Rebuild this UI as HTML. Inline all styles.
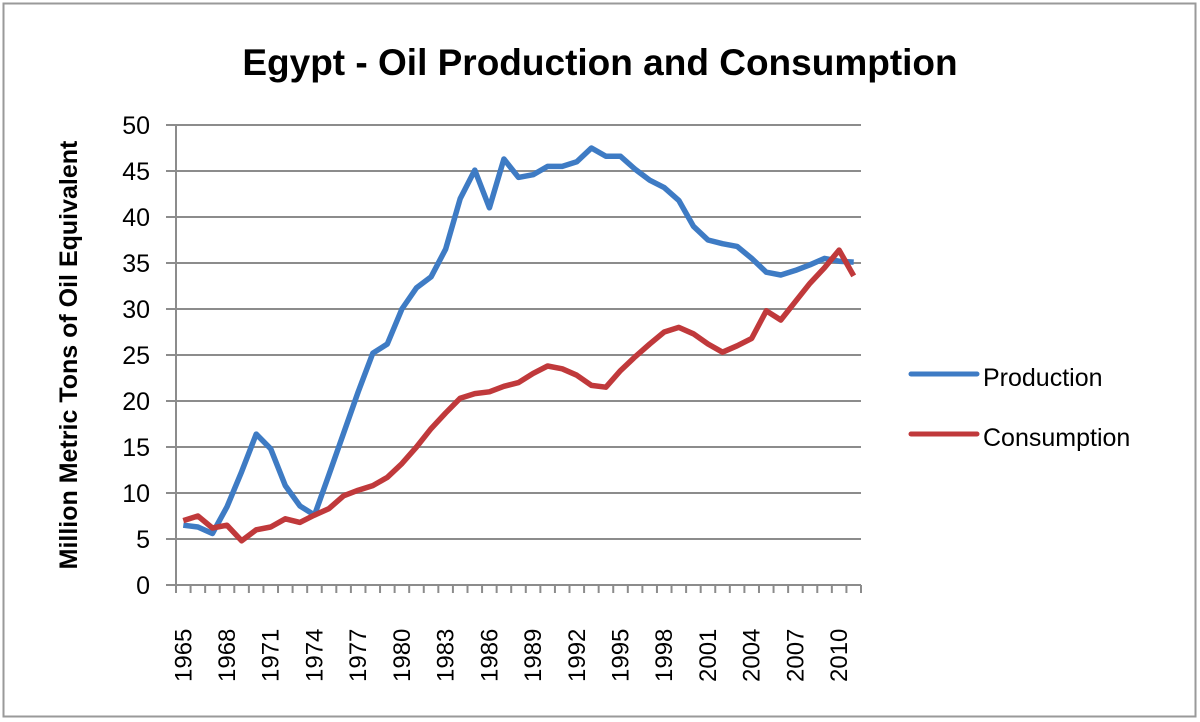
<!DOCTYPE html>
<html><head><meta charset="utf-8"><style>
html,body{margin:0;padding:0;background:#fff;}
svg{display:block;font-family:"Liberation Sans",sans-serif;}
</style></head><body>
<svg id="s" width="1200" height="722" viewBox="0 0 1200 722">
<rect x="3.5" y="3.5" width="1192" height="713" fill="#fff" stroke="#9a9a9a" stroke-width="2"/>
<text x="600" y="75" text-anchor="middle" font-size="37" font-weight="bold" fill="#000">Egypt - Oil Production and Consumption</text>
<g id="grid" stroke="#8c8c8c" stroke-width="2"></g>
<g id="ylab" font-size="25" fill="#000" text-anchor="end"></g>
<g id="xlab" font-size="24" fill="#000"></g>
<text transform="translate(77,355) rotate(-90)" text-anchor="middle" font-size="25" font-weight="bold" fill="#000">Million Metric Tons of Oil Equivalent</text>
<polyline id="prod" fill="none" stroke="#3e7bc4" stroke-width="5.5" stroke-linejoin="round"/>
<polyline id="cons" fill="none" stroke="#c0393b" stroke-width="5.5" stroke-linejoin="round"/>
<line x1="911" y1="374" x2="977" y2="374" stroke="#3e7bc4" stroke-width="5" stroke-linecap="round"/>
<text x="983" y="386" font-size="25" fill="#000">Production</text>
<line x1="911" y1="434" x2="977" y2="434" stroke="#c0393b" stroke-width="5" stroke-linecap="round"/>
<text x="983" y="446" font-size="25" fill="#000">Consumption</text>
</svg>
<script>
var ns="http://www.w3.org/2000/svg";
function el(t,a,p,txt){var e=document.createElementNS(ns,t);for(var k in a)e.setAttribute(k,a[k]);if(txt!=null)e.textContent=txt;document.getElementById(p).appendChild(e);return e;}
var x0=176,x1=861,y0=585,sc=9.2,n=47,w=(x1-x0)/n;
for(var v=0;v<=50;v+=5){var y=y0-v*sc;el("line",{x1:166,x2:x1,y1:y,y2:y},"grid");el("text",{x:150,y:y+9},"ylab",String(v));}
el("line",{x1:x0,x2:x0,y1:125,y2:y0+1},"grid");
for(var i=0;i<=n;i++){var x=x0+i*w;el("line",{x1:x,x2:x,y1:y0,y2:y0+8},"grid");}
for(var i=0;i<n;i+=3){var x=x0+(i+0.5)*w+8;el("text",{transform:"translate("+x+",682) rotate(-90)"},"xlab",String(1965+i));}
var P=[6.5,6.3,5.6,8.5,12.3,16.4,14.8,10.8,8.6,7.6,12,16.5,21,25.2,26.2,30,32.3,33.5,36.5,42,45.1,41,46.3,44.3,44.6,45.5,45.5,46,47.5,46.6,46.6,45.2,44,43.2,41.8,39,37.5,37.1,36.8,35.5,34,33.7,34.2,34.8,35.5,35.2,35.1];
var C=[7,7.5,6.2,6.5,4.8,6,6.3,7.2,6.8,7.6,8.3,9.7,10.3,10.8,11.7,13.2,15,17,18.7,20.3,20.8,21,21.6,22,23,23.8,23.5,22.8,21.7,21.5,23.3,24.8,26.2,27.5,28,27.3,26.2,25.3,26,26.8,29.8,28.8,30.8,32.8,34.5,36.4,33.6];
function pts(a){return a.map(function(v,i){return (x0+(i+0.5)*w).toFixed(1)+","+(y0-v*sc).toFixed(1);}).join(" ");}
document.getElementById("prod").setAttribute("points",pts(P));
document.getElementById("cons").setAttribute("points",pts(C));
</script>
</body></html>
